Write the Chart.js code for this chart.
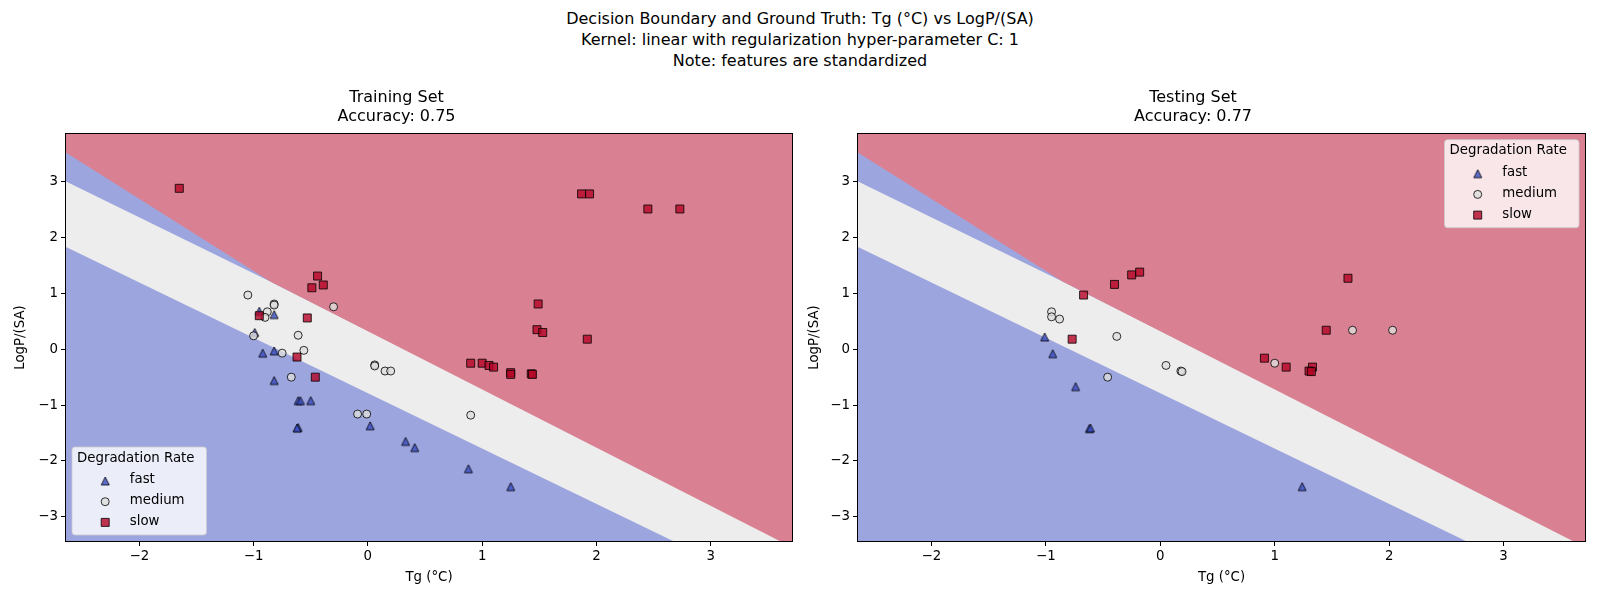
<!DOCTYPE html>
<html><head><meta charset="utf-8">
<script src="https://cdn.jsdelivr.net/npm/chart.js@4.4.1/dist/chart.umd.min.js"></script>
<style>
html,body{margin:0;padding:0;background:#fff;}
#fig{position:relative;width:1600px;height:600px;overflow:hidden;font-family:'DejaVu Sans',sans-serif;}
#suptitle{position:absolute;left:0;top:9px;width:1600px;text-align:center;font-size:16px;line-height:20.9px;color:#000;}
.panel{position:absolute;top:0;width:800px;height:600px;}
canvas{display:block;}
</style></head><body>
<div id="fig">
<div id="suptitle">Decision Boundary and Ground Truth: Tg (°C) vs LogP/(SA)<br>Kernel: linear with regularization hyper-parameter C: 1<br>Note: features are standardized</div>
<div class="panel" style="left:0"><canvas id="c1" width="800" height="600"></canvas></div>
<div class="panel" style="left:800px"><canvas id="c2" width="800" height="600"></canvas></div>
</div>
<script>
// ---------------- data ----------------
const classLabels = ['fast', 'medium', 'slow'];
const legendTitle = 'Degradation Rate';
const xTicks = [-2, -1, 0, 1, 2, 3];
const yTicks = [-3, -2, -1, 0, 1, 2, 3];
const xRange = [-2.65, 3.72];
const yRange = [-3.45, 3.87];

// training set
const trainFastX = [-0.95, -0.82, -0.99, -0.92, -0.82, -0.82, -0.61, -0.59, -0.50, -0.61, -0.62, 0.02, 0.33, 0.41, 0.88, 1.25];
const trainFastY = [0.68, 0.62, 0.30, -0.07, -0.03, -0.56, -0.92, -0.92, -0.92, -1.40, -1.41, -1.37, -1.65, -1.76, -2.14, -2.46];
const trainMediumX = [-1.05, -0.82, -0.82, -0.88, -0.90, -1.00, -0.75, -0.61, -0.56, -0.67, -0.30, 0.06, 0.06, 0.15, 0.20, -0.09, -0.01, 0.90];
const trainMediumY = [0.97, 0.81, 0.79, 0.67, 0.57, 0.24, -0.07, 0.25, -0.02, -0.50, 0.76, -0.28, -0.30, -0.39, -0.39, -1.16, -1.16, -1.18];
const trainSlowX = [-1.65, -0.95, -0.44, -0.49, -0.39, -0.53, -0.62, -0.46, 1.49, 1.48, 1.53, 1.87, 1.94, 2.45, 2.73, 1.92, 0.90, 1.00, 1.06, 1.10, 1.25, 1.25, 1.43, 1.44];
const trainSlowY = [2.88, 0.60, 1.31, 1.10, 1.15, 0.56, -0.14, -0.50, 0.81, 0.35, 0.30, 2.78, 2.78, 2.51, 2.51, 0.18, -0.25, -0.25, -0.29, -0.32, -0.42, -0.45, -0.44, -0.45];

// testing set
const testFastX = [-1.01, -0.94, -0.74, -0.62, -0.61, 1.24];
const testFastY = [0.22, -0.08, -0.67, -1.42, -1.41, -2.46];
const testMediumX = [-0.95, -0.95, -0.88, -0.38, -0.46, 0.05, 0.18, 0.19, 1.00, 1.68, 2.03];
const testMediumY = [0.67, 0.58, 0.54, 0.23, -0.50, -0.29, -0.39, -0.40, -0.25, 0.34, 0.34];
const testSlowX = [-0.25, -0.18, -0.40, -0.67, -0.77, 1.64, 1.45, 0.91, 1.10, 1.33, 1.30, 1.32];
const testSlowY = [1.33, 1.38, 1.16, 0.97, 0.18, 1.27, 0.34, -0.16, -0.32, -0.32, -0.39, -0.40];

// decision boundaries (vertices of the region edges)
const slowBoundaryX = [-3, -0.85, 4];
const slowBoundaryY = [3.98, 1.21, -3.845];
const fastWedgeX = [-3, -0.85, 4];
const fastWedgeY = [3.36, 1.21, -3.80];
const mediumLowerX = [-3, 4];
const mediumLowerY = [2.187, -4.75];

// ---------------- styles ----------------
const FONT = "'DejaVu Sans', sans-serif";
const regionColors = { fast: '#9da5df', medium: '#ededed', slow: '#d98192' };
const markerFill = { fast: 'rgba(58,76,192,0.8)', medium: 'rgba(221,221,221,0.8)', slow: 'rgba(180,4,38,0.8)' };
const markerEdge = 'rgba(0,0,0,0.8)';

function pts(xs, ys) { return xs.map((x, i) => ({ x: x, y: ys[i] })); }
function fmt(v) { return v < 0 ? '\u2212' + Math.abs(v) : String(v); }

function triImage() {
  const c = document.createElement('canvas');
  c.width = 12; c.height = 12;
  const g = c.getContext('2d');
  g.beginPath(); g.moveTo(6, 2); g.lineTo(2, 10); g.lineTo(10, 10); g.closePath();
  g.fillStyle = markerFill.fast; g.fill();
  g.strokeStyle = markerEdge; g.lineWidth = 1; g.stroke();
  return c;
}
const TRI = triImage();

function drawMarker(ctx, kind, x, y) {
  ctx.save();
  if (kind === 'fast') { ctx.drawImage(TRI, x - 6, y - 6); ctx.restore(); return; }
  ctx.beginPath();
  if (kind === 'medium') ctx.arc(x, y, 4, 0, Math.PI * 2);
  else ctx.rect(x - 4, y - 4, 8, 8);
  ctx.fillStyle = markerFill[kind]; ctx.fill();
  ctx.strokeStyle = markerEdge; ctx.lineWidth = 1; ctx.stroke();
  ctx.restore();
}

const bgPlugin = {
  id: 'regionBg',
  beforeDatasetsDraw(chart) {
    const a = chart.chartArea, ctx = chart.ctx;
    ctx.save(); ctx.fillStyle = regionColors.fast;
    ctx.fillRect(a.left, a.top, a.right - a.left, a.bottom - a.top);
    ctx.restore();
  }
};

const framePlugin = {
  id: 'frame',
  afterDatasetsDraw(chart) {
    const a = chart.chartArea, ctx = chart.ctx;
    ctx.save(); ctx.strokeStyle = '#000'; ctx.lineWidth = 1;
    ctx.strokeRect(Math.round(a.left) + 0.5, Math.round(a.top) + 0.5, Math.round(a.right - a.left) - 1, Math.round(a.bottom - a.top) - 1);
    ctx.restore();
  }
};

const legendPlugin = {
  id: 'boxLegend',
  afterDraw(chart, args, opts) {
    const a = chart.chartArea, ctx = chart.ctx;
    const w = 134.5, h = 88;
    let left, top;
    if (opts.loc === 'lower left') { left = a.left + 7; top = a.bottom - 7 - h; }
    else { left = a.right - 7 - w; top = a.top + 6.7; }
    ctx.save();
    const r = 3;
    ctx.beginPath();
    ctx.moveTo(left + r, top); ctx.lineTo(left + w - r, top); ctx.quadraticCurveTo(left + w, top, left + w, top + r);
    ctx.lineTo(left + w, top + h - r); ctx.quadraticCurveTo(left + w, top + h, left + w - r, top + h);
    ctx.lineTo(left + r, top + h); ctx.quadraticCurveTo(left, top + h, left, top + h - r);
    ctx.lineTo(left, top + r); ctx.quadraticCurveTo(left, top, left + r, top); ctx.closePath();
    ctx.fillStyle = 'rgba(255,255,255,0.8)'; ctx.fill();
    ctx.strokeStyle = 'rgba(204,204,204,0.8)'; ctx.lineWidth = 1; ctx.stroke();
    ctx.fillStyle = '#000'; ctx.font = '13.33px ' + FONT;
    ctx.textBaseline = 'middle'; ctx.textAlign = 'left';
    ctx.fillText(legendTitle, left + 5, top + 11.3);
    classLabels.forEach((lab, i) => {
      const yy = top + 33 + i * 20.7;
      drawMarker(ctx, lab, left + 33.2, yy + 1);
      ctx.fillStyle = '#000';
      ctx.fillText(lab, left + 57.8, yy);
    });
    ctx.restore();
  }
};

function makeChart(id, titleLines, data, cfg) {
  const tickFont = { family: FONT, size: 13.33 };
  const regionLine = (xs, ys, color, order) => ({
    type: 'line', data: pts(xs, ys), fill: 'end', backgroundColor: color,
    borderWidth: 0, borderColor: 'rgba(0,0,0,0)', pointRadius: 0, tension: 0, order: order
  });
  return new Chart(document.getElementById(id), {
    type: 'scatter',
    data: {
      datasets: [
        { label: classLabels[0], data: pts(data.fx, data.fy), pointStyle: TRI, radius: 5, order: 2 },
        { label: classLabels[1], data: pts(data.mx, data.my), pointStyle: 'circle', radius: 4,
          backgroundColor: markerFill.medium, borderColor: markerEdge, borderWidth: 1, order: 1 },
        { label: classLabels[2], data: pts(data.sx, data.sy), pointStyle: 'rect', radius: 5.66,
          backgroundColor: markerFill.slow, borderColor: markerEdge, borderWidth: 1, order: 0 },
        regionLine(slowBoundaryX, slowBoundaryY, regionColors.slow, 10),
        regionLine(fastWedgeX, fastWedgeY, regionColors.fast, 11),
        regionLine(mediumLowerX, mediumLowerY, regionColors.medium, 12)
      ]
    },
    options: {
      responsive: false, animation: false, devicePixelRatio: 1,
      layout: { padding: { left: 0, right: cfg.padRight, top: 0, bottom: 0 } },
      plugins: {
        legend: { display: false }, tooltip: { enabled: false },
        title: { display: true, text: titleLines, color: '#000',
          font: { family: FONT, size: 16, weight: 'normal', lineHeight: 1.2 },
          padding: { top: 88.5, bottom: 6.1 } },
        boxLegend: { loc: cfg.legendLoc }
      },
      scales: {
        x: {
          type: 'linear', min: xRange[0], max: xRange[1],
          afterBuildTicks: s => { s.ticks = xTicks.map(v => ({ value: v })); },
          afterFit: s => { s.height = 58; },
          grid: { display: true, drawOnChartArea: false, drawTicks: true, tickLength: 4, tickColor: '#000', tickWidth: 1 },
          border: { display: false },
          ticks: { color: '#000', font: tickFont, padding: 3, maxRotation: 0, autoSkip: false, callback: v => fmt(v) },
          title: { display: true, text: 'Tg (°C)', color: '#000', font: { family: FONT, size: 13.33 }, padding: { top: 0, bottom: 14.5 } }
        },
        y: {
          type: 'linear', min: yRange[0], max: yRange[1],
          afterBuildTicks: s => { s.ticks = yTicks.map(v => ({ value: v })); },
          afterFit: s => { s.width = cfg.yWidth; },
          grid: { display: true, drawOnChartArea: false, drawTicks: true, tickLength: 4, tickColor: '#000', tickWidth: 1 },
          border: { display: false },
          ticks: { color: '#000', font: tickFont, padding: 3, autoSkip: false, callback: v => fmt(v) },
          title: { display: true, text: 'LogP/(SA)', color: '#000', font: { family: FONT, size: 13.33 }, padding: { top: cfg.yTitlePad, bottom: 0 } }
        }
      }
    },
    plugins: [bgPlugin, framePlugin, legendPlugin]
  });
}

makeChart('c1', ['Training Set', 'Accuracy: 0.75'],
  { fx: trainFastX, fy: trainFastY, mx: trainMediumX, my: trainMediumY, sx: trainSlowX, sy: trainSlowY },
  { padRight: 7, yWidth: 65, yTitlePad: 12.4, legendLoc: 'lower left' });
makeChart('c2', ['Testing Set', 'Accuracy: 0.77'],
  { fx: testFastX, fy: testFastY, mx: testMediumX, my: testMediumY, sx: testSlowX, sy: testSlowY },
  { padRight: 14, yWidth: 57, yTitlePad: 6.3, legendLoc: 'upper right' });
</script>
</body></html>
